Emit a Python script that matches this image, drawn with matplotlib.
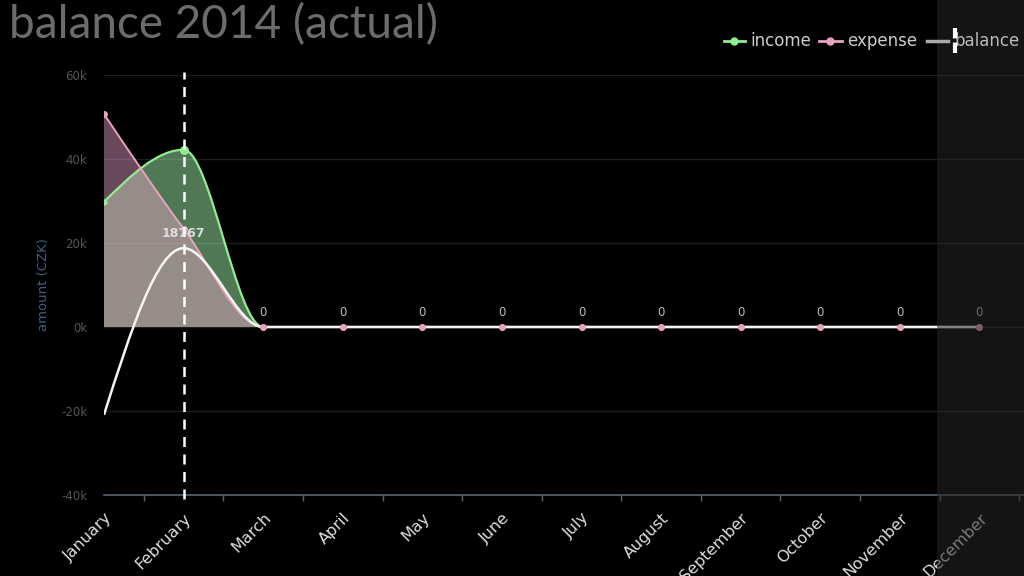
import matplotlib
matplotlib.use('Agg')
import matplotlib.pyplot as plt
from matplotlib.path import Path
from matplotlib.patches import PathPatch, Rectangle
from matplotlib.lines import Line2D
import numpy as np

months = ['January', 'February', 'March', 'April', 'May', 'June', 'July',
          'August', 'September', 'October', 'November', 'December']
income = [29800, 42200, 0, 0, 0, 0, 0, 0, 0, 0, 0, 0]
expense = [50700, 23433, 0, 0, 0, 0, 0, 0, 0, 0, 0, 0]
balance = [-20900, 18767, 0, 0, 0, 0, 0, 0, 0, 0, 0, 0]
balance_labels = ['', '18767', '0', '0', '0', '0', '0', '0', '0', '0', '0', '0']
yticks = [-40000, -20000, 0, 20000, 40000, 60000]
ytick_labels = ['-40k', '-20k', '0k', '20k', '40k', '60k']
hover_index = 1

BG = '#000000'
GREEN = '#90ee90'
PINK = '#e8a2c0'


def monotone_path(x, y, closed=False):
    x = np.asarray(x, float)
    y = np.asarray(y, float)
    n = len(x)
    h = np.diff(x)
    s = np.diff(y) / h
    t = np.zeros(n)
    for i in range(1, n - 1):
        s0, s1 = s[i - 1], s[i]
        p = (s0 * h[i] + s1 * h[i - 1]) / (h[i - 1] + h[i])
        t[i] = (np.sign(s0) + np.sign(s1)) * min(abs(s0), abs(s1), 0.5 * abs(p))
    t[0] = (3 * s[0] - t[1]) / 2
    t[-1] = (3 * s[-1] - t[-2]) / 2
    verts, codes = [], []
    if closed:
        verts.append((x[0], 0)); codes.append(Path.MOVETO)
        verts.append((x[0], y[0])); codes.append(Path.LINETO)
    else:
        verts.append((x[0], y[0])); codes.append(Path.MOVETO)
    for i in range(n - 1):
        d = h[i] / 3
        verts += [(x[i] + d, y[i] + t[i] * d), (x[i + 1] - d, y[i + 1] - t[i + 1] * d), (x[i + 1], y[i + 1])]
        codes += [Path.CURVE4] * 3
    if closed:
        verts.append((x[-1], 0)); codes.append(Path.LINETO)
        verts.append((x[0], 0)); codes.append(Path.CLOSEPOLY)
    return Path(verts, codes)


fig = plt.figure(figsize=(10.24, 5.76), dpi=100, facecolor=BG)
ax = fig.add_axes([104 / 1024, 81 / 576, 920 / 1024, 420 / 576], facecolor=BG)
x = np.arange(len(months))
ax.set_xlim(0, 11.56)
ax.set_ylim(-40000, 60000)

# fills
ax.add_patch(PathPatch(monotone_path(x, income, True), facecolor='#a0f0aa', alpha=0.5, edgecolor='none', zorder=2))
ax.add_patch(PathPatch(monotone_path(x, expense, True), facecolor='#f0a8cc', alpha=0.44, edgecolor='none', zorder=3))
# lines
ax.add_patch(PathPatch(monotone_path(x, income), facecolor='none', edgecolor=GREEN, lw=1.6, zorder=4))
ax.add_patch(PathPatch(monotone_path(x, expense), facecolor='none', edgecolor=PINK, lw=1.4, zorder=5))
ax.add_patch(PathPatch(monotone_path(x, balance), facecolor='none', edgecolor='#f4f4f4', lw=1.8, zorder=6))
# markers
ax.plot(x, income, 'o', color=GREEN, ms=4.5, mec='none', zorder=7)
ax.plot(x, expense, 'o', color=PINK, ms=5, mec='none', zorder=8)
ax.plot([x[hover_index]], [income[hover_index]], 'o', color=GREEN, ms=6.5, mec='none', zorder=8)

for xi, yi, lab in zip(x, balance, balance_labels):
    if not lab:
        continue
    if lab == '0':
        ax.annotate(lab, (xi, yi), xytext=(0, 6), textcoords='offset points', ha='center', va='bottom',
                    color='#bbbbbb', fontsize=8.5, zorder=9)
    else:
        ax.annotate(lab, (xi, yi), xytext=(0, 6), textcoords='offset points', ha='center', va='bottom',
                    color='#dddddd', fontsize=9, fontweight='bold', zorder=9)

# crosshair
ax.axvline(x[hover_index], ymin=-0.01, ymax=1.007, color='white', lw=1.8, ls=(0, (4, 3)), zorder=10, clip_on=False)

# axes styling
for sp in ['top', 'right', 'left']:
    ax.spines[sp].set_visible(False)
ax.spines['bottom'].set_color('#5a6470')
ax.spines['bottom'].set_linewidth(1.2)
ax.set_yticks(yticks)
ax.set_yticklabels(ytick_labels)
ax.tick_params(axis='y', length=0, pad=12, labelcolor='#555555', labelsize=8.5)
ax.set_xticks(x)
ax.set_xticklabels(months, rotation=45, ha='right', rotation_mode='anchor')
ax.tick_params(axis='x', which='major', length=0, pad=11, labelcolor='#dddddd', labelsize=11.5)
ax.set_xticks(x + 0.5, minor=True)
ax.tick_params(axis='x', which='minor', length=4, color='#5a6470', width=1)
ax.grid(axis='y', color='#1e1e1e', lw=1, zorder=0)
ax.set_axisbelow(True)

fig.text(44 / 1024, 1 - 285 / 576, 'amount (CZK)', rotation=90, ha='center', va='center',
         color='#40607e', fontsize=9.5)

fig.text(9 / 1024, 1 - 38 / 576, 'balance 2014 (actual)', ha='left', va='baseline', color='#6c6c6c',
         fontsize=33, family=['Lato', 'DejaVu Sans'])

# overlay
fig.patches.append(Rectangle((937 / 1024, 0), 1 - 937 / 1024, 1, transform=fig.transFigure,
                             facecolor='#262626', alpha=0.55, edgecolor='none', zorder=50))

# legend
ly = 1 - 41 / 576
def fx(px):
    return px / 1024
fig.lines.append(Line2D([fx(724), fx(745)], [ly, ly], color=GREEN, lw=2, transform=fig.transFigure, zorder=60))
fig.lines.append(Line2D([fx(734)], [ly], marker='o', ms=6, color=GREEN, mec='none', transform=fig.transFigure, zorder=61))
fig.text(fx(750), ly, 'income', ha='left', va='center', color='#cccccc', fontsize=12, zorder=62)
fig.lines.append(Line2D([fx(819), fx(842)], [ly, ly], color=PINK, lw=2, transform=fig.transFigure, zorder=60))
fig.lines.append(Line2D([fx(830)], [ly], marker='o', ms=6, color=PINK, mec='none', transform=fig.transFigure, zorder=61))
fig.text(fx(847), ly, 'expense', ha='left', va='center', color='#cccccc', fontsize=12, zorder=62)
fig.lines.append(Line2D([fx(927), fx(948)], [ly, ly], color='#aaaaaa', lw=2.5, transform=fig.transFigure, zorder=60))
fig.text(fx(954), ly, 'balance', ha='left', va='center', color='#bbbbbb', fontsize=12, zorder=62)
fig.lines.append(Line2D([fx(955), fx(955)], [1 - 28 / 576, 1 - 57 / 576], color='white', lw=3,
                        ls=(0, (2.5, 1)), transform=fig.transFigure, zorder=63))

fig.savefig('out.png', dpi=100, facecolor=BG)
